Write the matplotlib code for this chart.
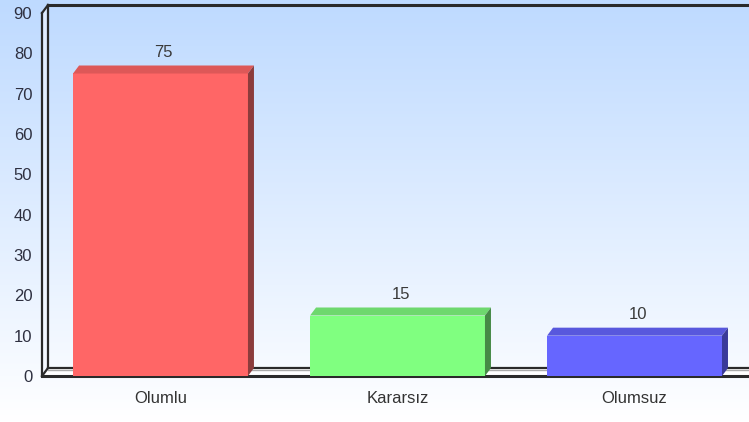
import numpy as np
import matplotlib
matplotlib.use('Agg')
import matplotlib.pyplot as plt
from matplotlib.patches import Polygon
from matplotlib import font_manager

# chart data
categories = ['Olumlu', 'Kararsız', 'Olumsuz']
values = [75, 15, 10]
front_colors = ['#FF6666', '#80FF80', '#6666FF']
top_colors = ['#DD5858', '#6ED86E', '#5858DD']
side_colors = ['#8B3C3C', '#468A46', '#3A3A99']
y_ticks = list(range(0, 100, 10))

# a narrow sans looks closest; fall back to Liberation Sans
installed = {f.name for f in font_manager.fontManager.ttflist}
if 'Liberation Sans Narrow' in installed:
    font_name, fsize = 'Liberation Sans Narrow', 13
else:
    font_name, fsize = 'Liberation Sans', 12
plt.rcParams['font.family'] = [font_name, 'DejaVu Sans']

W, H = 749, 422
fig = plt.figure(figsize=(W / 100, H / 100), dpi=100)

# gradient background over the whole figure
bg = fig.add_axes([0, 0, 1, 1])
top_rgb = np.array([190, 218, 255]) / 255
bot_rgb = np.array([255, 255, 255]) / 255
t = np.linspace(0, 1, 256)[:, None]
grad = top_rgb * (1 - t) + bot_rgb * t
bg.imshow(grad[:, None, :], aspect='auto', extent=[0, 1, 0, 1])
bg.axis('off')

# plot area: left edge 42px, zero line at 376px, 90 at 13px
ax = fig.add_axes([42 / W, (H - 376) / H, (W - 42) / W, 363 / H])
ax.set_xlim(-0.5, 2.483)
ax.set_ylim(0, 90)
ax.patch.set_visible(False)
for s in ax.spines.values():
    s.set_visible(False)

# depth of the 3d effect in data units (6px right, 8px up)
inv = ax.transData.inverted()
p0 = inv.transform((0, 0))
p1 = inv.transform((6, 8))
dx, dy = p1 - p0

x0, x1 = ax.get_xlim()
y0, y1 = ax.get_ylim()
line_kw = dict(color='#2A2A2A', lw=1.6, clip_on=False, zorder=2)

# floor
floor = Polygon([(x0, y0), (x1 + dx, y0), (x1 + dx, y0 + dy), (x0 + dx, y0 + dy)],
                closed=True, facecolor='white', edgecolor='none', clip_on=False, zorder=1)
ax.add_patch(floor)
ax.plot([x0, x1 + dx], [y0, y0], color='#2A2A2A', lw=2.2, clip_on=False, zorder=2)
ax.plot([x0 + dx, x1 + dx], [y0 + dy, y0 + dy], **line_kw)
ax.plot([x0 + dx, x1 + dx], [y0 + dy - 0.4, y0 + dy - 0.4], color='#AAAAAA', lw=1,
        clip_on=False, zorder=2)
ax.plot([x0, x0 + dx], [y0, y0 + dy], **line_kw)

# left wall and top border
wall = Polygon([(x0, y0), (x0 + dx, y0 + dy), (x0 + dx, y1 + dy), (x0, y1)],
               closed=True, facecolor='#F4F8FF', edgecolor='none', alpha=0.6,
               clip_on=False, zorder=1)
ax.add_patch(wall)
ax.plot([x0, x0], [y0, y1], **line_kw)
ax.plot([x0 + dx, x0 + dx], [y0 + dy, y1 + dy], **line_kw)
ax.plot([x0, x0 + dx], [y1, y1 + dy], **line_kw)
ax.plot([x0 + dx, x1 + dx], [y1 + dy, y1 + dy], color='#2A2A2A', lw=2.2, clip_on=False, zorder=2)

# 3d bars
width = 0.738
xs = np.arange(len(categories))
for x, v, fc, tc, sc in zip(xs, values, front_colors, top_colors, side_colors):
    l, r = x - width / 2, x + width / 2
    ax.add_patch(Polygon([(l, 0), (r, 0), (r, v), (l, v)], closed=True,
                         facecolor=fc, edgecolor='none', zorder=4))
    ax.add_patch(Polygon([(l, v), (r, v), (r + dx, v + dy), (l + dx, v + dy)], closed=True,
                         facecolor=tc, edgecolor='none', zorder=4))
    ax.add_patch(Polygon([(r, 0), (r + dx, dy), (r + dx, v + dy), (r, v)], closed=True,
                         facecolor=sc, edgecolor='none', zorder=4))
    ax.text(x + dx / 2, v + dy + 1.3, str(v), ha='center', va='bottom',
            fontsize=fsize, color='#3A3A3A', zorder=5)

ax.set_yticks(y_ticks)
ax.set_yticklabels([str(v) for v in y_ticks])
ax.set_xticks(xs)
ax.set_xticklabels(categories)
ax.tick_params(axis='y', length=0, pad=7, labelsize=fsize, labelcolor='#2E3040')
ax.tick_params(axis='x', length=0, pad=11, labelsize=fsize, labelcolor='#333333')

fig.savefig('out.png', dpi=100)
